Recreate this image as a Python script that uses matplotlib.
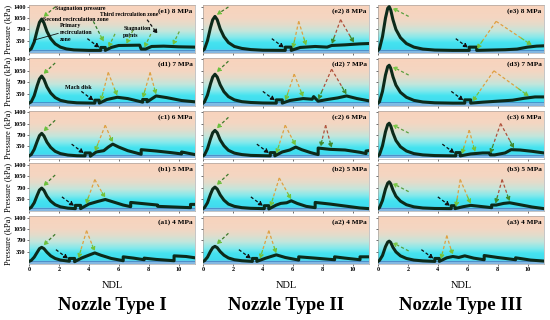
import matplotlib.pyplot as plt
import numpy as np
from matplotlib.colors import LinearSegmentedColormap

plt.rcParams['font.family'] = ['Liberation Serif', 'DejaVu Serif']

# rows from top (8 MPa) to bottom (4 MPa)
row_letters = ['e', 'd', 'c', 'b', 'a']
pressures = ['8 MPa', '7 MPa', '6 MPa', '5 MPa', '4 MPa']
nozzles = ['Nozzle Type I', 'Nozzle Type II', 'Nozzle Type III']
x_ticks = [0, 2, 4, 6, 8, 10]
y_ticks = [350, 700, 1050, 1400]

# ---- Nozzle type I ----
e1_x = [0, 0.15, 0.35, 0.55, 0.7, 0.85, 1.0, 1.2, 1.45, 1.75, 2.1, 2.5, 3.0, 4.0, 4.8, 4.8, 5.1, 5.1, 5.5, 6.0, 7.4, 7.5, 7.8, 8.2, 9.0, 10.0, 11.1]
e1_y = [60, 110, 320, 680, 920, 1020, 900, 640, 420, 260, 160, 105, 75, 60, 60, 150, 150, 60, 150, 210, 220, 100, 100, 180, 190, 170, 160]
d1_x = [0, 0.15, 0.35, 0.55, 0.7, 0.85, 1.0, 1.2, 1.45, 1.75, 2.1, 2.6, 3.2, 4.4, 4.4, 4.7, 4.7, 5.2, 5.9, 6.6, 7.6, 7.6, 7.9, 7.9, 8.5, 9.2, 10.2, 11.1]
d1_y = [60, 100, 290, 600, 800, 890, 790, 560, 370, 230, 145, 95, 70, 60, 150, 150, 60, 170, 240, 200, 90, 170, 170, 100, 280, 230, 140, 100]
c1_x = [0, 0.15, 0.35, 0.55, 0.7, 0.85, 1.0, 1.2, 1.45, 1.75, 2.1, 2.6, 3.2, 3.75, 3.75, 4.1, 4.1, 4.5, 5.0, 5.3, 5.6, 6.0, 6.6, 7.5, 7.5, 8.5, 9.5, 10.2, 10.2, 11.1]
c1_y = [60, 100, 260, 510, 680, 750, 670, 480, 320, 200, 130, 85, 65, 60, 150, 150, 50, 180, 220, 330, 420, 330, 220, 110, 250, 210, 160, 120, 180, 100]
b1_x = [0, 0.15, 0.35, 0.55, 0.7, 0.85, 1.0, 1.2, 1.45, 1.75, 2.1, 2.6, 3.1, 3.1, 3.45, 3.45, 4.0, 4.6, 5.1, 5.6, 6.3, 6.8, 6.8, 8.6, 8.6, 10.8, 10.8, 11.1]
b1_y = [60, 100, 240, 470, 630, 690, 620, 440, 290, 180, 115, 75, 60, 160, 160, 60, 200, 280, 340, 270, 170, 120, 250, 170, 130, 90, 190, 190]
a1_x = [0, 0.15, 0.35, 0.55, 0.7, 0.85, 1.0, 1.2, 1.45, 1.75, 2.1, 2.7, 2.7, 3.05, 3.05, 3.5, 4.0, 4.4, 4.8, 5.5, 6.3, 6.3, 7.0, 7.7, 7.7, 8.5, 9.7, 9.7, 10.5, 11.1]
a1_y = [60, 90, 190, 340, 450, 490, 450, 340, 230, 150, 100, 65, 150, 150, 50, 160, 250, 320, 250, 150, 80, 200, 160, 110, 160, 120, 80, 230, 210, 170]

# ---- Nozzle type II ----
e2_x = [0, 0.1, 0.3, 0.5, 0.65, 0.8, 0.95, 1.15, 1.4, 1.7, 2.1, 2.6, 3.2, 4.0, 5.5, 5.5, 5.9, 5.9, 6.5, 7.5, 8.3, 8.6, 9.5, 10.5, 11.1]
e2_y = [60, 100, 360, 760, 1000, 1100, 1000, 720, 480, 300, 180, 120, 85, 65, 60, 160, 160, 60, 150, 180, 160, 210, 230, 260, 270]
d2_x = [0, 0.1, 0.3, 0.5, 0.65, 0.8, 0.95, 1.15, 1.4, 1.7, 2.1, 2.6, 3.2, 4.0, 4.9, 4.9, 5.3, 5.3, 5.8, 6.7, 7.3, 7.4, 7.7, 8.3, 9.0, 9.6, 10.3, 11.1]
d2_y = [60, 100, 310, 650, 860, 945, 860, 620, 410, 260, 160, 105, 80, 65, 60, 160, 160, 60, 140, 200, 180, 260, 120, 170, 220, 280, 200, 130]
c2_x = [0, 0.1, 0.3, 0.5, 0.65, 0.8, 0.95, 1.15, 1.4, 1.7, 2.1, 2.6, 3.2, 4.5, 4.5, 4.8, 4.8, 5.3, 5.8, 6.2, 6.6, 7.2, 7.7, 7.7, 8.5, 9.5, 10.5, 10.9, 10.9, 11.1]
c2_y = [60, 90, 280, 580, 770, 840, 770, 550, 370, 230, 145, 100, 75, 60, 160, 160, 60, 180, 240, 330, 250, 160, 100, 300, 260, 240, 170, 130, 210, 220]
b2_x = [0, 0.1, 0.3, 0.5, 0.65, 0.8, 0.95, 1.15, 1.4, 1.7, 2.1, 2.6, 3.2, 4.1, 4.1, 4.4, 4.4, 4.9, 5.2, 5.6, 5.9, 6.3, 6.9, 7.5, 7.5, 8.5, 9.5, 10.5, 11.1]
b2_y = [60, 90, 240, 500, 660, 720, 660, 480, 320, 200, 130, 90, 70, 60, 150, 150, 50, 170, 220, 240, 300, 220, 130, 90, 250, 200, 140, 80, 60]
a2_x = [0, 0.1, 0.3, 0.5, 0.65, 0.8, 0.95, 1.15, 1.4, 1.7, 2.1, 2.6, 3.3, 3.3, 3.6, 3.6, 4.2, 4.9, 5.5, 6.4, 6.4, 7.5, 8.8, 8.8, 9.5, 10.5, 10.5, 11.1]
a2_y = [60, 80, 190, 370, 480, 520, 480, 360, 250, 165, 110, 80, 60, 150, 150, 60, 160, 260, 180, 100, 200, 160, 110, 200, 160, 110, 200, 200]

# ---- Nozzle type III ----
e3_x = [0, 0.1, 0.3, 0.5, 0.65, 0.75, 0.85, 1.0, 1.2, 1.5, 1.9, 2.4, 3.0, 3.8, 5.0, 6.1, 6.1, 6.6, 6.6, 7.5, 8.5, 9.3, 10.0, 10.6, 11.1]
e3_y = [60, 110, 480, 1050, 1350, 1400, 1300, 1000, 700, 450, 270, 160, 100, 70, 60, 60, 160, 160, 60, 70, 80, 100, 160, 190, 200]
d3_x = [0, 0.1, 0.3, 0.5, 0.65, 0.75, 0.85, 1.0, 1.2, 1.5, 1.9, 2.4, 3.0, 3.8, 5.0, 5.8, 5.8, 6.2, 6.2, 7.0, 8.0, 9.0, 9.8, 10.5, 11.1]
d3_y = [60, 100, 420, 920, 1180, 1220, 1130, 870, 610, 390, 240, 145, 95, 70, 60, 60, 160, 160, 60, 90, 120, 150, 210, 250, 250]
c3_x = [0, 0.1, 0.3, 0.5, 0.65, 0.75, 0.85, 1.0, 1.2, 1.5, 1.9, 2.4, 3.0, 3.8, 5.2, 5.2, 5.5, 5.5, 6.2, 7.0, 7.5, 7.5, 7.8, 8.5, 8.9, 9.5, 10.3, 11.1]
c3_y = [60, 100, 370, 800, 1020, 1060, 980, 760, 530, 340, 210, 130, 90, 70, 60, 160, 160, 60, 120, 150, 150, 90, 90, 150, 250, 240, 200, 150]
b3_x = [0, 0.1, 0.3, 0.5, 0.65, 0.75, 0.85, 1.0, 1.2, 1.5, 1.9, 2.4, 3.0, 3.8, 4.9, 4.9, 5.15, 5.15, 5.7, 6.2, 6.8, 7.6, 7.6, 7.9, 8.4, 8.8, 9.5, 10.3, 11.1]
b3_y = [60, 90, 310, 660, 840, 880, 820, 630, 440, 290, 180, 115, 80, 65, 60, 150, 150, 60, 120, 160, 130, 90, 170, 170, 220, 240, 180, 110, 60]
a3_x = [0, 0.1, 0.3, 0.5, 0.65, 0.75, 0.85, 1.0, 1.2, 1.5, 1.9, 2.4, 3.0, 3.8, 3.8, 4.1, 4.1, 4.6, 5.0, 5.4, 5.8, 6.4, 7.1, 7.1, 8.0, 9.2, 9.2, 10.2, 11.1]
a3_y = [60, 90, 240, 510, 650, 680, 640, 490, 350, 230, 150, 100, 75, 60, 150, 150, 60, 170, 210, 180, 230, 160, 110, 240, 180, 110, 170, 100, 70]

curves = {
    'e1': (e1_x, e1_y), 'd1': (d1_x, d1_y), 'c1': (c1_x, c1_y), 'b1': (b1_x, b1_y), 'a1': (a1_x, a1_y),
    'e2': (e2_x, e2_y), 'd2': (d2_x, d2_y), 'c2': (c2_x, c2_y), 'b2': (b2_x, b2_y), 'a2': (a2_x, a2_y),
    'e3': (e3_x, e3_y), 'd3': (d3_x, d3_y), 'c3': (c3_x, c3_y), 'b3': (b3_x, b3_y), 'a3': (a3_x, a3_y),
}

# Mach disk step location per column (rows e..a)
mach_col1 = [4.8, 4.4, 3.75, 3.1, 2.7]
mach_col2 = [5.5, 4.9, 4.5, 4.1, 3.3]
mach_col3 = [6.1, 5.8, 5.2, 4.9, 3.8]
mach = [mach_col1, mach_col2, mach_col3]

# stagnation point arrow pairs: apex x, apex y, target 1, target 2, colour set
stag = {
    'e1': [],
    'd1': [(5.3, 1000, 4.8, 5.9, 0), (8.1, 1000, 7.6, 8.5, 0)],
    'c1': [(5.1, 1000, 4.4, 5.6, 0)],
    'b1': [(4.4, 950, 3.8, 5.1, 0)],
    'a1': [(3.85, 1000, 3.3, 4.4, 0)],
    'e2': [(6.4, 950, 6.0, 6.9, 0), (9.2, 1000, 8.6, 10.1, 1)],
    'd2': [(6.1, 950, 5.5, 6.7, 0), (8.6, 1100, 7.7, 9.6, 1)],
    'c2': [(5.5, 1000, 4.9, 6.2, 0), (8.2, 1000, 7.85, 8.6, 1)],
    'b2': [(5.1, 1000, 4.5, 5.9, 0)],
    'a2': [(4.4, 1000, 3.8, 4.9, 0)],
    'e3': [(7.9, 950, 6.6, 10.3, 0)],
    'd3': [(7.75, 1050, 6.3, 10.1, 0)],
    'c3': [(6.1, 850, 5.6, 6.5, 0), (8.2, 1050, 7.5, 9.1, 1)],
    'b3': [(5.5, 950, 5.2, 6.2, 0), (8.3, 950, 7.85, 8.8, 1)],
    'a3': [(4.6, 850, 4.2, 5.0, 0)],
}
stag_line = ['#e0a040', '#b0503a']
stag_head = ['#74c23c', '#3f8a2c']

curve_color = '#0c2a1a'
ymin, ymax = -20, 1450
xmax = 11.1

bg_stops = [(-20, '#86b4e0'), (70, '#7cc0e6'), (90, '#3fdcef'), (300, '#46e3f0'),
            (450, '#82e9ec'), (650, '#c2e6dc'), (850, '#e3dccb'), (1050, '#f4d6c2'), (1450, '#f9d3bc')]
bg_cmap = LinearSegmentedColormap.from_list(
    'bg', [((v - ymin) / (ymax - ymin), c) for v, c in bg_stops])
grad = np.linspace(0, 1, 256).reshape(-1, 1)


def dash_arrow(ax, x0, y0, x1, y1, line_c, head_c, lw=0.9):
    ax.plot([x0, x0 + (x1 - x0) * 0.7], [y0, y0 + (y1 - y0) * 0.7], ls=(0, (2.5, 1.8)),
            color=line_c, lw=lw, zorder=4, clip_on=False)
    ax.annotate('', xy=(x1, y1), xytext=(x0 + (x1 - x0) * 0.7, y0 + (y1 - y0) * 0.7),
                arrowprops=dict(arrowstyle='-|>', color=head_c, lw=lw, ls=(0, (2.5, 1.8)),
                                mutation_scale=6, shrinkA=0, shrinkB=0),
                zorder=5, annotation_clip=False)


fig = plt.figure(figsize=(5.5, 3.2), dpi=100)
col_left = [29, 203, 378]
col_w = 166
row_h = 48
bold = dict(fontweight='bold')

for r, letter in enumerate(row_letters):
    top = 5 + r * 52.75
    for c in range(3):
        key = f'{letter}{c + 1}'
        ax = fig.add_axes([col_left[c] / 550, 1 - (top + row_h) / 320, col_w / 550, row_h / 320])
        ax.imshow(grad, cmap=bg_cmap, origin='lower', aspect='auto',
                  extent=(0, xmax, ymin, ymax), zorder=0)
        ax.axhline(80, color='#3c7cc0', lw=0.5, zorder=1)
        xs, ys = curves[key]
        ax.plot(xs, ys, color=curve_color, lw=2.2, zorder=3, solid_joinstyle='round')
        ax.set_xlim(0, xmax)
        ax.set_ylim(ymin, ymax)
        ax.set_xticks(x_ticks)
        ax.set_yticks(y_ticks)
        ax.tick_params(length=1.5, width=0.4, pad=1, labelsize=4.5)
        for lab in ax.get_xticklabels() + ax.get_yticklabels():
            lab.set_fontweight('bold')
        if c > 0:
            ax.set_yticklabels([])
        if r < 4:
            ax.set_xticklabels([])
        for s in ax.spines.values():
            s.set_linewidth(0.4)
            s.set_color('#999999')
        ax.text(0.985, 0.93, f'({key}) {pressures[r]}', transform=ax.transAxes,
                ha='right', va='top', fontsize=5.2, **bold, zorder=6)

        # arrow to the stagnation pressure peak
        ip = int(np.argmax(ys))
        px, py = xs[ip], ys[ip]
        if c < 2:
            dash_arrow(ax, px + 0.9, min(py + 400, 1390), px + 0.1, min(py + 60, 1150),
                       '#3d7a2a', '#6cc03c')
        else:
            dash_arrow(ax, px + 1.3, py - 300, px + 0.2, py - 40, '#5aa040', '#7cc84a')

        # Mach disk arrow
        mx = mach[c][r]
        dash_arrow(ax, mx - 0.9, 420, mx - 0.08, 140, '#111111', '#111111')

        # stagnation point arrow pairs
        for axx, axy, t1, t2, k in stag[key]:
            for t in (t1, t2):
                ty = np.interp(t, xs, ys) + 40
                dash_arrow(ax, axx, axy, t, ty, stag_line[k], stag_head[k])

        if c == 0:
            fig.text(8 / 550, 1 - (top + row_h / 2) / 320, 'Pressure (kPa)', rotation=90,
                     ha='center', va='center', fontsize=6)

        if key == 'e1':
            ax.text(1.75, 1330, 'Stagnation pressure', fontsize=4.3, va='center', **bold)
            ax.text(0.95, 1010, 'Second recirculation zone', fontsize=4.3, va='center', **bold)
            ax.text(2.05, 900, 'Primary\nrecirculation\nzone', fontsize=4.3, va='top',
                    linespacing=1.5, **bold)
            ax.plot([1.95, 0.3], [580, 370], color='#111111', lw=0.6, zorder=4)
            ax.text(4.75, 1150, 'Third recirculation zone', fontsize=4.1, va='center', **bold)
            ax.text(6.3, 800, 'Stagnation\npoints', fontsize=4.3, va='top', linespacing=1.4, **bold)
            dash_arrow(ax, 4.3, 950, 5.0, 320, '#2f7a2a', '#6cc03c')
            dash_arrow(ax, 7.9, 1000, 8.6, 560, '#111111', '#111111')
            for t in (5.3, 6.5, 7.7, 9.6):
                ty = np.interp(t, xs, ys) + 40
                dash_arrow(ax, t + 0.45, ty + 420, t, ty, '#6aa83a', '#74c23c')
        if key == 'd1':
            ax.text(2.4, 530, 'Mach disk', fontsize=4.3, va='center', **bold)

for c in range(3):
    cx = (col_left[c] + col_w / 2) / 550
    fig.text(cx, 1 - 285 / 320, 'NDL', ha='center', va='center', fontsize=7.5)
    fig.text(cx, 1 - 305 / 320, nozzles[c], ha='center', va='center', fontsize=13.5,
             fontweight='bold')

fig.savefig('out.png', dpi=100)
